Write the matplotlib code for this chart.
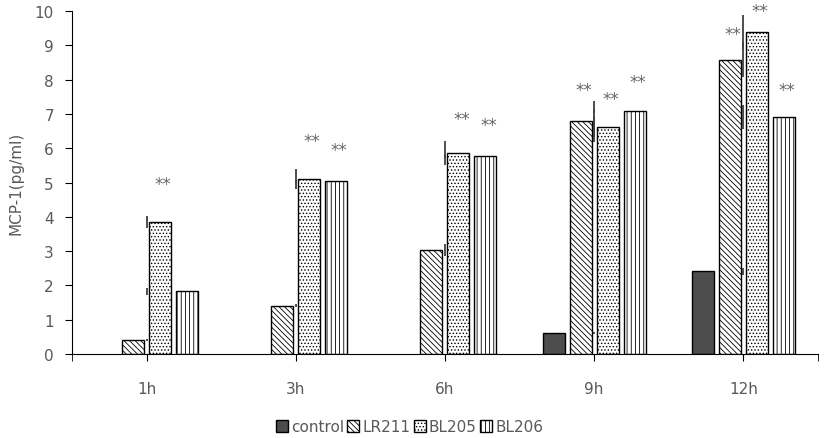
import matplotlib
matplotlib.use('Agg')
import matplotlib.pyplot as plt
import numpy as np

# data
times = ['1h', '3h', '6h', '9h', '12h']
series = ['control', 'LR211', 'BL205', 'BL206']
control = [0.0, 0.0, 0.0, 0.62, 2.42]
lr211 = [0.40, 1.41, 3.04, 6.78, 8.58]
bl205 = [3.84, 5.10, 5.86, 6.63, 9.38]
bl206 = [1.83, 5.03, 5.76, 7.07, 6.90]
err_control = [0.0, 0.0, 0.0, 0.03, 0.10]
err_lr211 = [0.03, 0.05, 0.17, 0.60, 0.50]
err_bl205 = [0.17, 0.30, 0.35, 0.30, 0.50]
err_bl206 = [0.10, 0.05, 0.05, 0.05, 0.35]
# significance marks: (time index, series index, y of the mark)
sig_time = [0, 1, 1, 2, 2, 3, 3, 3, 4, 4, 4]
sig_series = [2, 2, 3, 2, 3, 1, 2, 3, 1, 2, 3]
sig_y = [4.95, 6.2, 5.95, 6.85, 6.68, 7.7, 7.43, 7.93, 9.33, 9.99, 7.7]

plt.rcParams['font.family'] = 'DejaVu Sans'
plt.rcParams['hatch.linewidth'] = 0.6
grey = '#595959'

fig = plt.figure(figsize=(8.27, 4.39), dpi=100)
ax = fig.add_axes([0.087, 0.191, 0.902, 0.782])

x = np.arange(len(times))
step = 0.181
width = 0.148
vals = [control, lr211, bl205, bl206]
errs = [err_control, err_lr211, err_bl205, err_bl206]
faces = ['#4d4d4d', 'white', 'white', 'white']
hatches = [None, '\\\\\\\\\\\\', '.....', '||||']

bars = []
for i in range(4):
    b = ax.bar(x + (i - 1.5) * step, vals[i], width, color=faces[i], edgecolor='black',
               linewidth=1.0, hatch=hatches[i], label=series[i], zorder=2)
    bars.append(b)
    # empty bars leave no outline
    for p in b.patches:
        if p.get_height() == 0:
            p.set_linewidth(0)

# error bars end up on the category centre (as in the original)
for i in range(4):
    ax.errorbar(x, vals[i], yerr=errs[i], fmt='none', ecolor='#404040', elinewidth=1.3,
                capsize=0, zorder=3)

for t, s, yy in zip(sig_time, sig_series, sig_y):
    ax.text(x[t] + (s - 1.5) * step + 0.02, yy, '**', ha='center', va='center',
            fontsize=12, color='#666666')

ax.set_xlim(-0.5, 4.5)
ax.set_ylim(0, 10)
ax.set_yticks(range(0, 11))
ax.set_xticks(x)
ax.set_xticklabels(times)
ax.set_xticks([-0.5, 4.5], minor=True)
ax.tick_params(axis='x', which='both', direction='out', length=5, colors='black',
               labelcolor=grey, labelsize=11, pad=14)
ax.tick_params(axis='y', direction='out', length=5, colors='black', labelcolor=grey,
               labelsize=11, pad=8)
for s in ['top', 'right']:
    ax.spines[s].set_visible(False)
ax.set_ylabel('MCP-1(pg/ml)', color=grey, fontsize=11, labelpad=8)

handles = [plt.Rectangle((0, 0), 1, 1, facecolor=faces[i], edgecolor='black', linewidth=1.0,
                         hatch=hatches[i]) for i in range(4)]
fig.legend(handles=handles, labels=series, loc='center', bbox_to_anchor=(0.495, 0.026),
           ncol=4, frameon=False, fontsize=11, handlelength=0.8, handleheight=0.8,
           handletextpad=0.2, columnspacing=0.2, labelcolor=grey)

fig.savefig('out.png', dpi=100)
